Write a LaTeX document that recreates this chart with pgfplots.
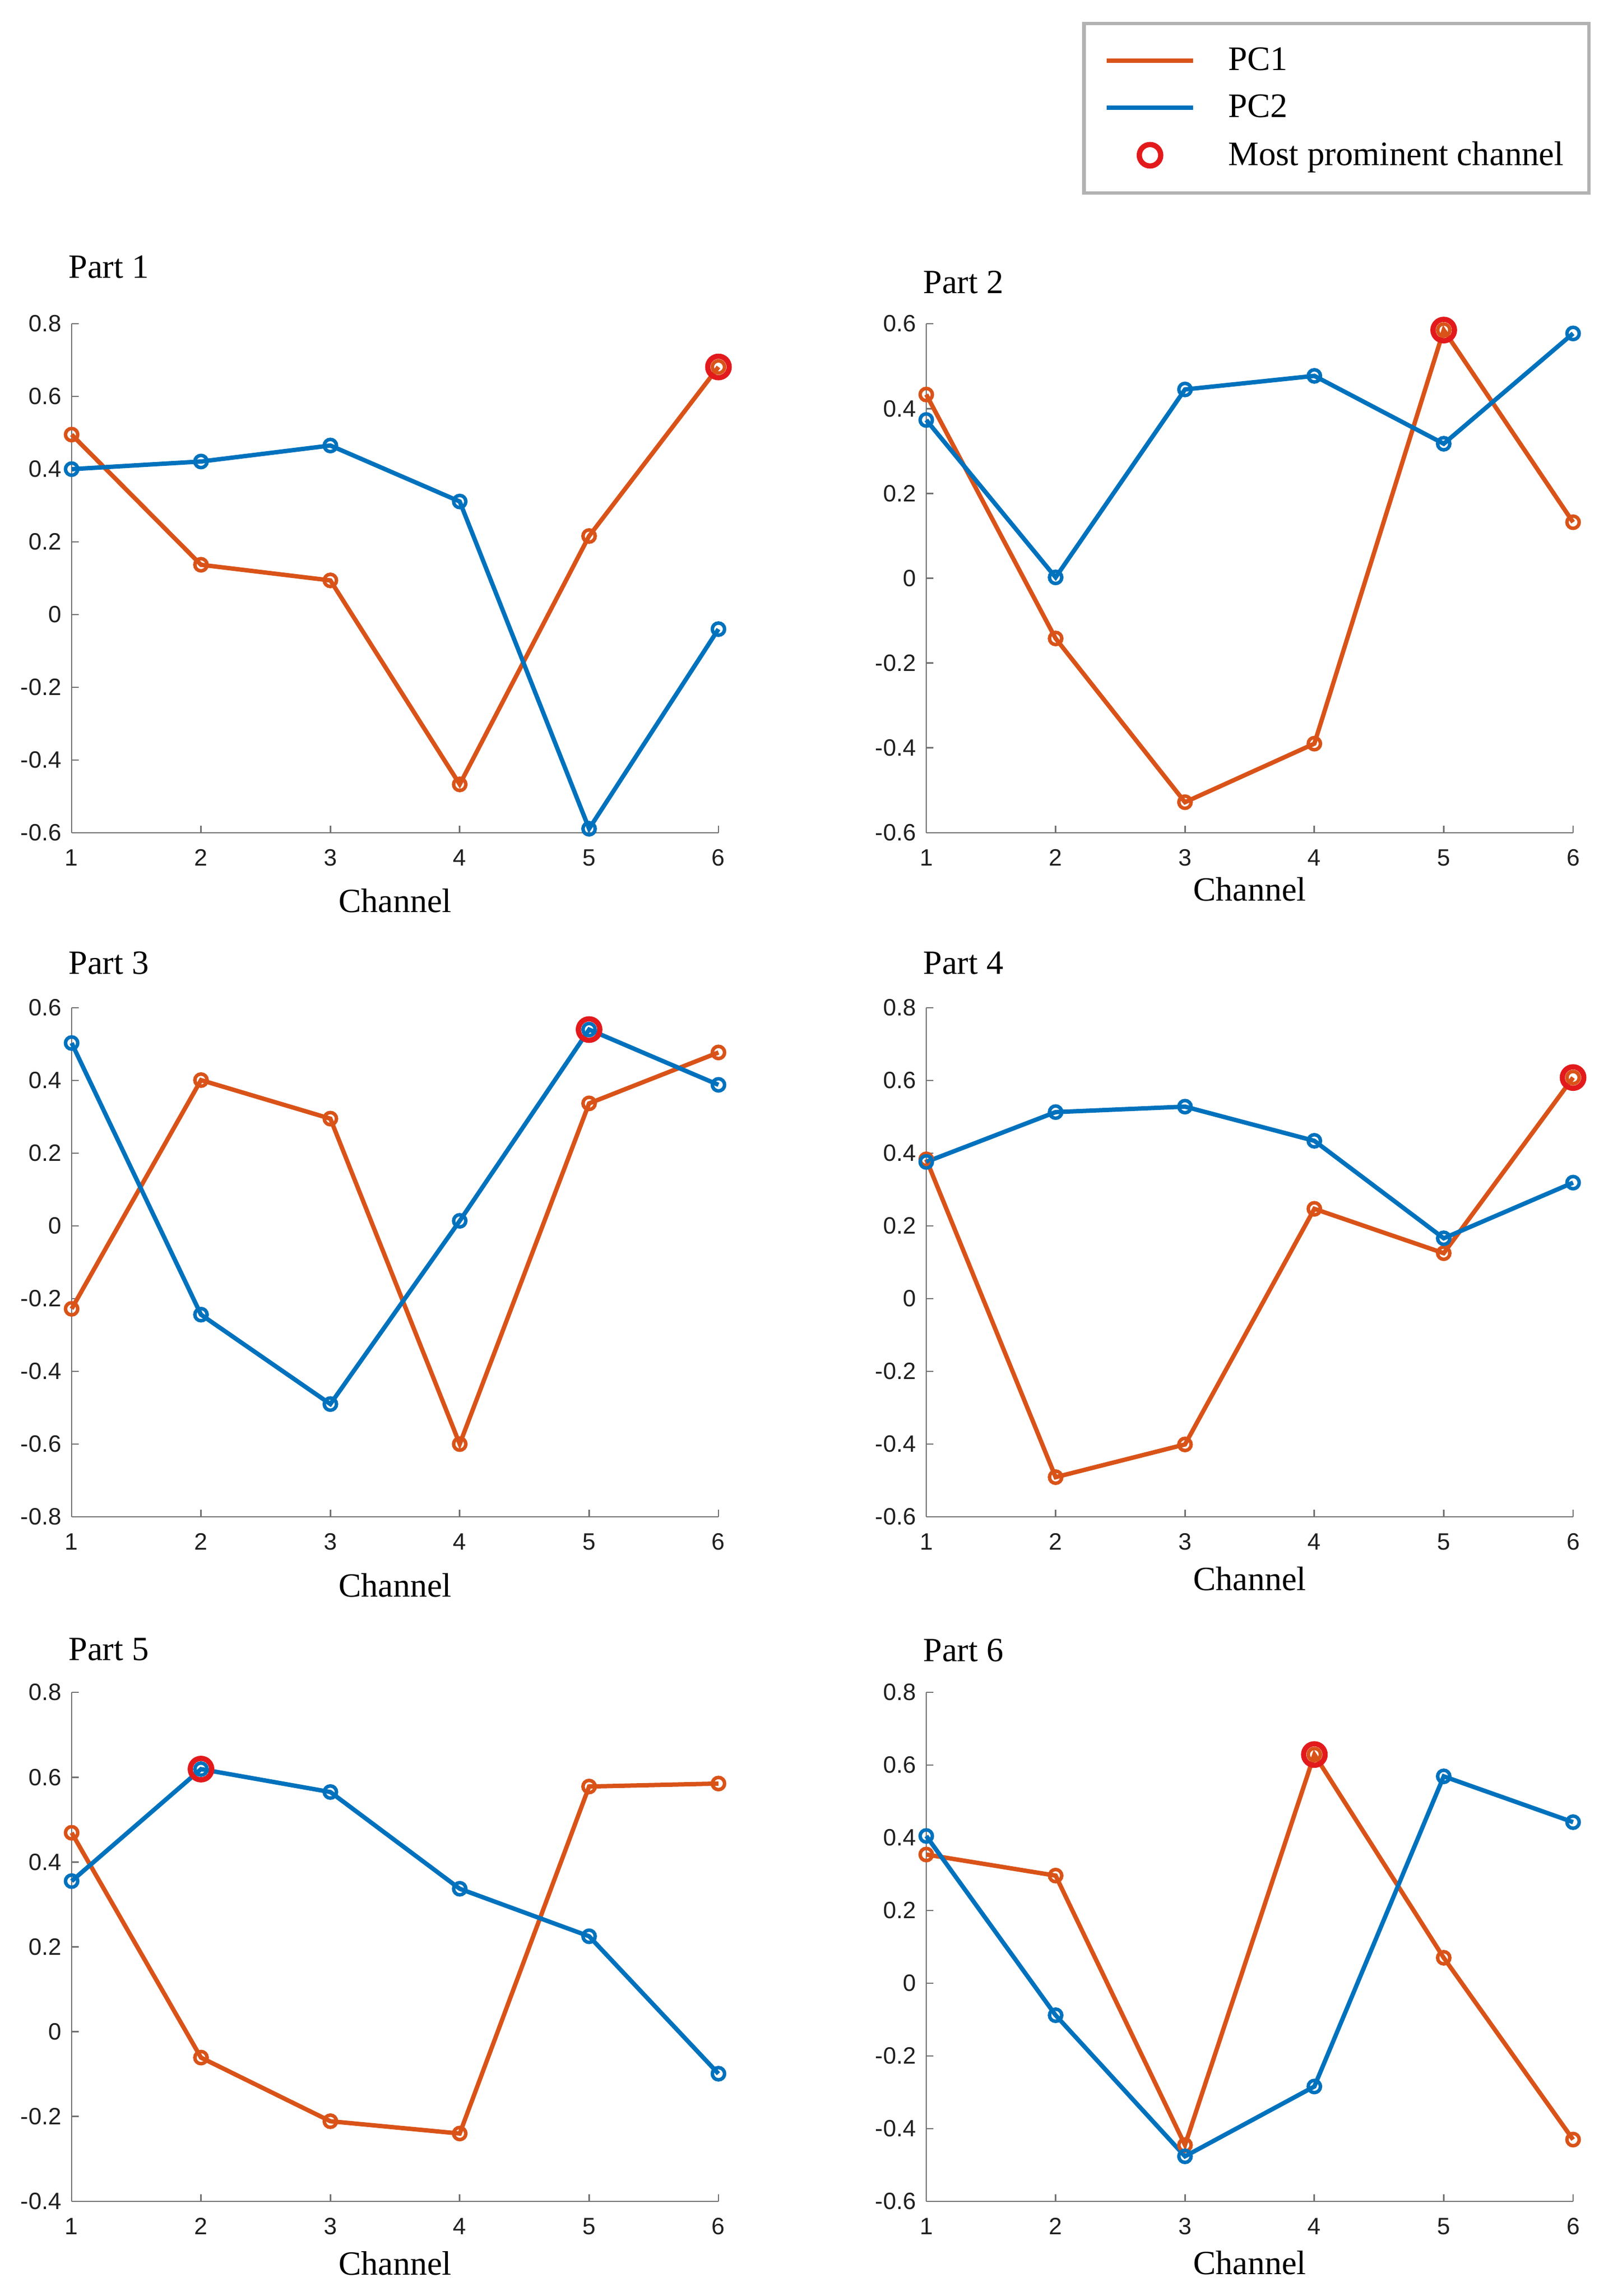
\documentclass[border=0pt]{standalone}
\usepackage{fontspec}
\setmainfont{Liberation Serif}
\newfontfamily\sansf{Liberation Sans}
\usepackage{pgfplots}
\pgfplotsset{compat=1.18}

\definecolor{pcorange}{RGB}{217,83,25}
\definecolor{pcblue}{RGB}{0,114,189}
\definecolor{promred}{RGB}{226,26,28}

% 1 px of the reference = 0.25pt
\newcommand\serifbig{\fontsize{15.5}{18}\selectfont}

\pgfplotsset{
  /pgf/number format/.cd, fixed, precision=1, assume math mode=true,
  /pgfplots/.cd,
  panel/.style={
    scale only axis, width=295.75pt, height=232.75pt,
    xmin=1, xmax=6, xtick={1,2,3,4,5,6},
    axis lines=left,
    axis line style={-, black!55, line width=0.7pt},
    tick style={black!55, line width=0.7pt},
    tick align=inside, major tick length=3.25pt,
    clip=false,
    tick label style={font=\sansf\fontsize{10.8}{12}\selectfont, text=black!88},
    xticklabel style={anchor=north, inner sep=0pt, yshift=-7.5pt},
    yticklabel style={anchor=east, inner sep=0pt, xshift=-4.5pt},
    title style={at={(0,1)}, anchor=base west, inner sep=0pt, xshift=-1.5pt, font=\serifbig},
    xlabel={Channel},
    xlabel style={at={(0.5,0)}, anchor=base, inner sep=0pt, font=\serifbig},
  },
  pcone/.style={color=pcorange, line width=2pt, mark=o, mark size=2.8pt,
    mark options={line width=1.6pt}},
  pctwo/.style={color=pcblue, line width=2pt, mark=o, mark size=2.8pt,
    mark options={line width=1.6pt}},
  prom/.style={only marks, color=promred, mark=o, mark size=4.9pt,
    mark options={line width=2.4pt}},
}

\begin{document}
\begin{tikzpicture}
\path[use as bounding box] (0,0) rectangle (737.25pt,1049.75pt);

% Part 1
\begin{axis}[panel, at={(32.75pt,669pt)}, anchor=south west,
  ymin=-0.6, ymax=0.8, ytick={-0.6,-0.4,-0.2,0,0.2,0.4,0.6,0.8},
  title={Part 1}, title style={yshift=14.75pt},
  xlabel style={yshift=-36.5pt}]
\addplot[pcone, forget plot] coordinates {(1,0.495) (2,0.137) (3,0.094) (4,-0.467) (5,0.216) (6,0.681)};
\addplot[pctwo, forget plot] coordinates {(1,0.400) (2,0.421) (3,0.465) (4,0.311) (5,-0.589) (6,-0.040)};
\addplot[prom, forget plot] coordinates {(6,0.681)};
\end{axis}

% Part 2 (carries the legend)
\begin{axis}[panel, at={(423.5pt,669pt)}, anchor=south west,
  ymin=-0.6, ymax=0.6, ytick={-0.6,-0.4,-0.2,0,0.2,0.4,0.6},
  title={Part 2}, title style={yshift=7.75pt},
  xlabel style={yshift=-31.25pt},
  legend cell align=left,
  legend image code/.code={
    \path (0pt,-5pt) (39.5pt,5pt);
    \draw[#1] (0pt,0pt) -- (39.5pt,0pt);},
  legend style={at={(1,1)}, anchor=north east, xshift=8pt, yshift=138pt,
    draw=black!30, line width=1.6pt, fill=white,
    inner xsep=9.4pt, inner ysep=9pt, row sep=5.6pt, column sep=13pt,
    font=\fontsize{15.7}{18}\selectfont}]
\addlegendimage{color=pcorange, line width=2pt}
\addlegendentry{PC1}
\addlegendimage{color=pcblue, line width=2pt}
\addlegendentry{PC2}
\addlegendimage{legend image code/.code={
    \path (0pt,-5pt) (39.5pt,5pt);
    \draw[promred, line width=2.4pt] (19.75pt,0pt) circle (4.9pt);}}
\addlegendentry{Most prominent channel}
\addplot[pcone, forget plot] coordinates {(1,0.433) (2,-0.142) (3,-0.528) (4,-0.390) (5,0.585) (6,0.132)};
\addplot[pctwo, forget plot] coordinates {(1,0.373) (2,0.002) (3,0.445) (4,0.477) (5,0.317) (6,0.577)};
\addplot[prom, forget plot] coordinates {(5,0.585)};
\end{axis}

% Part 3
\begin{axis}[panel, at={(32.75pt,356.25pt)}, anchor=south west,
  ymin=-0.8, ymax=0.6, ytick={-0.8,-0.6,-0.4,-0.2,0,0.2,0.4,0.6},
  title={Part 3}, title style={yshift=9.5pt},
  xlabel style={yshift=-36.75pt}]
\addplot[pcone, forget plot] coordinates {(1,-0.228) (2,0.401) (3,0.295) (4,-0.600) (5,0.337) (6,0.477)};
\addplot[pctwo, forget plot] coordinates {(1,0.503) (2,-0.244) (3,-0.490) (4,0.014) (5,0.540) (6,0.388)};
\addplot[prom, forget plot] coordinates {(5,0.540)};
\end{axis}

% Part 4
\begin{axis}[panel, at={(423.5pt,356.25pt)}, anchor=south west,
  ymin=-0.6, ymax=0.8, ytick={-0.6,-0.4,-0.2,0,0.2,0.4,0.6,0.8},
  title={Part 4}, title style={yshift=9.5pt},
  xlabel style={yshift=-33.75pt}]
\addplot[pcone, forget plot] coordinates {(1,0.383) (2,-0.491) (3,-0.401) (4,0.247) (5,0.125) (6,0.608)};
\addplot[pctwo, forget plot] coordinates {(1,0.376) (2,0.513) (3,0.528) (4,0.434) (5,0.166) (6,0.319)};
\addplot[prom, forget plot] coordinates {(6,0.608)};
\end{axis}

% Part 5
\begin{axis}[panel, at={(32.75pt,43.25pt)}, anchor=south west,
  ymin=-0.4, ymax=0.8, ytick={-0.4,-0.2,0,0.2,0.4,0.6,0.8},
  title={Part 5}, title style={yshift=8.75pt},
  xlabel style={yshift=-33.5pt}]
\addplot[pcone, forget plot] coordinates {(1,0.469) (2,-0.061) (3,-0.211) (4,-0.240) (5,0.578) (6,0.585)};
\addplot[pctwo, forget plot] coordinates {(1,0.355) (2,0.619) (3,0.565) (4,0.337) (5,0.225) (6,-0.099)};
\addplot[prom, forget plot] coordinates {(2,0.619)};
\end{axis}

% Part 6
\begin{axis}[panel, at={(423.5pt,43.25pt)}, anchor=south west,
  ymin=-0.6, ymax=0.8, ytick={-0.6,-0.4,-0.2,0,0.2,0.4,0.6,0.8},
  title={Part 6}, title style={yshift=8.25pt},
  xlabel style={yshift=-33.25pt}]
\addplot[pcone, forget plot] coordinates {(1,0.354) (2,0.296) (3,-0.445) (4,0.629) (5,0.070) (6,-0.430)};
\addplot[pctwo, forget plot] coordinates {(1,0.405) (2,-0.088) (3,-0.476) (4,-0.284) (5,0.569) (6,0.443)};
\addplot[prom, forget plot] coordinates {(4,0.629)};
\end{axis}
\end{tikzpicture}
\end{document}
